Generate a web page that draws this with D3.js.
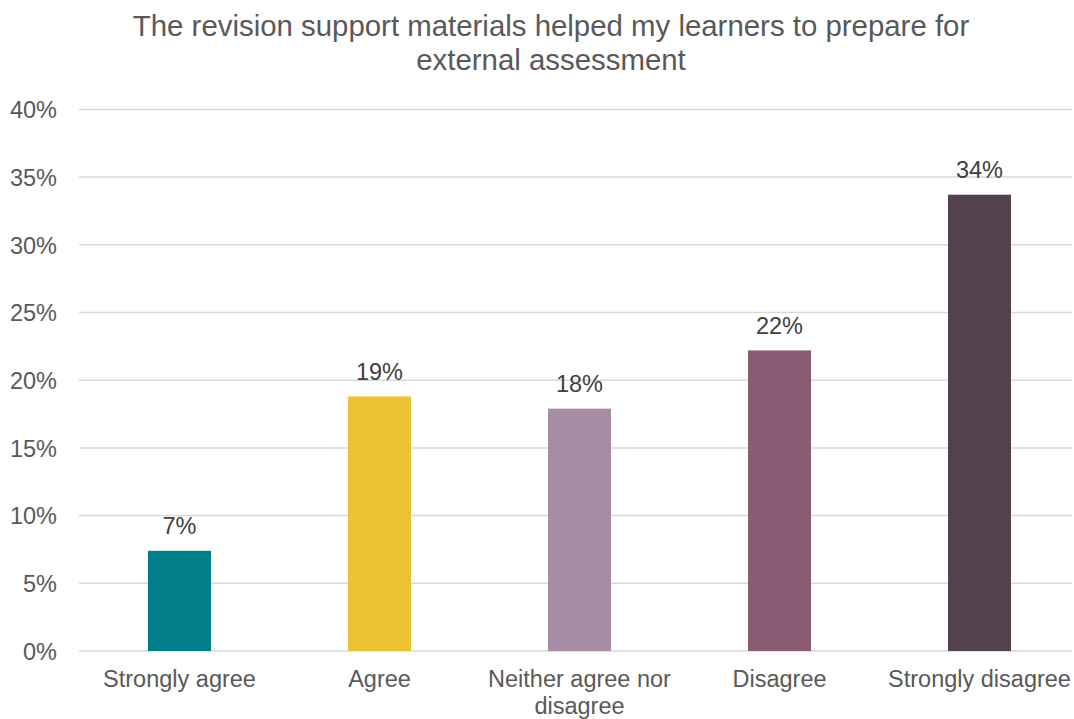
<!DOCTYPE html>
<html>
<head>
<meta charset="utf-8">
<script src="https://cdn.jsdelivr.net/npm/d3@7"></script>
<style>
  html, body { margin: 0; padding: 0; background: #ffffff; }
  svg { display: block; font-family: "Liberation Sans", Arial, sans-serif; }
</style>
</head>
<body>
<svg id="chart" width="1074" height="719"></svg>
<script>
// Survey responses: share of respondents per answer
const categories = [["Strongly agree"], ["Agree"], ["Neither agree nor", "disagree"], ["Disagree"], ["Strongly disagree"]];
const shares = [0.074, 0.188, 0.179, 0.222, 0.337];
const barColors = ["#007F8B", "#EBC334", "#A78DA3", "#895C74", "#53414D"];
const yTicks = [0, 0.05, 0.10, 0.15, 0.20, 0.25, 0.30, 0.35, 0.40];
const titleLines = ["The revision support materials helped my learners to prepare for", "external assessment"];

const svg = d3.select("#chart");

const keys = categories.map(c => c.join(" "));
const pad = 0.685;
const x = d3.scaleBand()
  .domain(keys)
  .range([79.5, 1079.5])
  .paddingInner(pad)
  .paddingOuter(pad / 2);

const y = d3.scaleLinear().domain([0, 0.40]).range([651, 109.4]);

const pct = d3.format(".0%");

// Title
svg.append("g")
  .selectAll("text")
  .data(titleLines)
  .join("text")
  .attr("x", 551)
  .attr("y", (d, i) => 36 + i * 34)
  .attr("text-anchor", "middle")
  .attr("font-size", 29.4)
  .attr("fill", "#595959")
  .text(d => d);

// Horizontal gridlines
svg.append("g")
  .selectAll("line")
  .data(yTicks)
  .join("line")
  .attr("x1", 79)
  .attr("x2", 1072)
  .attr("y1", d => y(d))
  .attr("y2", d => y(d))
  .attr("stroke", "#D9D9D9")
  .attr("stroke-width", 1.5);

// Y axis labels
const yAxis = d3.axisLeft(y).tickValues(yTicks).tickFormat(pct).tickSize(0).tickPadding(0);
const yg = svg.append("g").attr("transform", "translate(57,0)").call(yAxis);
yg.select(".domain").remove();
yg.selectAll("text")
  .attr("font-size", 23.5)
  .attr("font-family", "'Liberation Sans', Arial, sans-serif")
  .attr("fill", "#595959")
  .attr("dy", "0.35em");

// Bars
svg.append("g")
  .selectAll("rect")
  .data(shares)
  .join("rect")
  .attr("x", (d, i) => x(keys[i]))
  .attr("width", x.bandwidth())
  .attr("y", d => y(d))
  .attr("height", d => y(0) - y(d))
  .attr("fill", (d, i) => barColors[i]);

// Value labels
svg.append("g")
  .selectAll("text")
  .data(shares)
  .join("text")
  .attr("x", (d, i) => x(keys[i]) + x.bandwidth() / 2)
  .attr("y", d => y(d) - 16.5)
  .attr("text-anchor", "middle")
  .attr("font-size", 23.5)
  .attr("fill", "#404040")
  .text(d => pct(d));

// Category labels (may wrap onto two lines)
const cat = svg.append("g")
  .selectAll("text")
  .data(categories)
  .join("text")
  .attr("x", (d, i) => x(keys[i]) + x.bandwidth() / 2)
  .attr("y", 687)
  .attr("text-anchor", "middle")
  .attr("font-size", 23.5)
  .attr("fill", "#595959");
cat.selectAll("tspan")
  .data(d => d)
  .join("tspan")
  .attr("x", function () { return d3.select(this.parentNode).attr("x"); })
  .attr("dy", (d, i) => i === 0 ? 0 : 27)
  .text(d => d);
</script>
</body>
</html>
